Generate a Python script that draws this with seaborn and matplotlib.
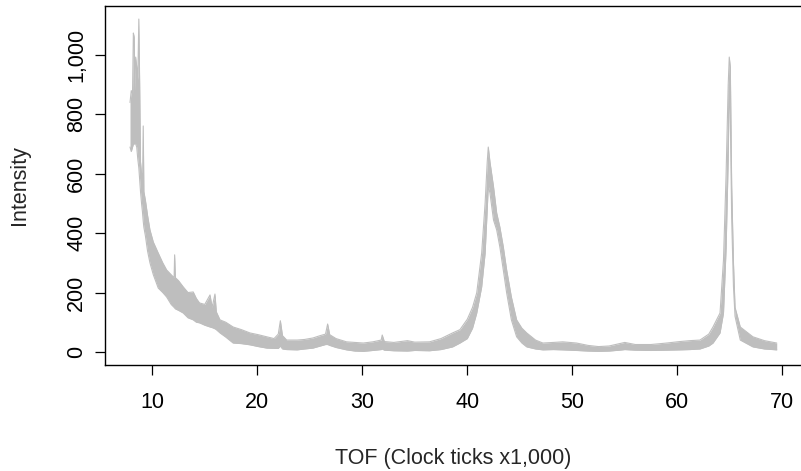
import matplotlib
matplotlib.use("Agg")
import matplotlib.pyplot as plt
import seaborn as sns
import pandas as pd
from matplotlib.ticker import FuncFormatter

# Time-of-flight spectrum: position (clock ticks x1,000) with the lower and
# upper edge of the noisy intensity trace at each position.
tof = [7.88, 8.00, 8.12, 8.20, 8.28, 8.34, 8.42, 8.52, 8.62, 8.72, 8.80, 8.88,
       8.98, 9.07, 9.14, 9.20, 9.35, 9.55, 9.78, 10.1, 10.57, 11.0, 11.37, 11.8,
       12.08, 12.13, 12.2, 12.5, 12.95, 13.4, 13.9, 14.2, 14.5, 15.0, 15.5, 15.7,
       15.97, 16.1, 16.45, 17.0, 17.7, 18.5, 19.3, 20.1, 20.9, 21.6, 22.0, 22.2,
       22.4, 22.8, 23.8, 24.5, 25.3, 26.0, 26.5, 26.7, 26.9, 27.5, 28.5, 29.3,
       30.1, 31.0, 31.8, 31.9, 32.1, 33.0, 34.3, 35.0, 36.4, 37.5, 38.6, 39.3,
       40.0, 40.5, 40.9, 41.37, 41.7, 41.9, 42.0, 42.16, 42.5, 42.8, 43.1, 43.43,
       43.75, 44.2, 44.7, 45.2, 45.66, 46.5, 47.2, 48.2, 49.1, 50.4, 51.5, 52.5,
       53.5, 54.5, 55.0, 56.0, 57.5, 59.0, 60.25, 61.2, 62.16, 63.0, 63.4, 64.07,
       64.4, 64.65, 64.85, 64.95, 65.05, 65.18, 65.35, 65.5, 66.0, 67.2, 68.3,
       69.47]
intensity_low = [690, 675, 690, 700, 700, 705, 700, 690, 650, 620, 580, 540,
                 500, 470, 440, 420, 390, 340, 300, 260, 215, 200, 185, 160,
                 150, 148, 145, 140, 131, 115, 108, 100, 98, 90, 84, 82,
                 78, 75, 64, 50, 30, 28, 24, 18, 13, 12, 12, 20,
                 10, 8, 7, 10, 13, 20, 25, 25, 22, 15, 7, 3,
                 2, 5, 8, 10, 6, 4, 3, 5, 4, 8, 17, 30,
                 45, 80, 131, 219, 333, 480, 560, 535, 444, 411, 354, 276,
                 199, 108, 51, 30, 17, 10, 7, 8, 7, 5, 3, 2,
                 3, 6, 8, 6, 5, 6, 7, 8, 10, 20, 30, 64,
                 131, 350, 650, 900, 800, 450, 220, 120, 40, 17, 10,
                 7]
intensity_high = [840, 880, 870, 1074, 1060, 880, 993, 960, 916, 1121, 900, 640,
                  600, 560, 761, 540, 510, 460, 411, 370, 333, 300, 276, 260,
                  250, 327, 250, 240, 219, 200, 202, 180, 165, 160, 192, 150,
                  195, 135, 108, 100, 84, 75, 64, 58, 51, 45, 60, 105,
                  55, 40, 40, 42, 47, 55, 60, 94, 58, 45, 34, 32,
                  30, 34, 40, 57, 35, 32, 38, 33, 34, 45, 64, 75,
                  110, 150, 199, 333, 502, 640, 690, 640, 556, 468, 421, 354,
                  276, 185, 108, 80, 64, 40, 30, 32, 34, 30, 22, 18,
                  20, 28, 32, 25, 25, 30, 35, 38, 40, 60, 84, 131,
                  310, 600, 900, 993, 960, 560, 300, 150, 84, 51, 38,
                  30]

x_ticks = [10, 20, 30, 40, 50, 60, 70]
y_ticks = [0, 200, 400, 600, 800, 1000]

sns.set_style("ticks")
plt.rcParams['font.family'] = ['Liberation Sans', 'DejaVu Sans']
FS = 15.5
plt.rcParams['font.size'] = FS

df = pd.DataFrame({"tof": tof, "low": intensity_low, "high": intensity_high})
trace = "#BEBEBE"

W, H = 801, 471
fig = plt.figure(figsize=(W / 100, H / 100), dpi=100)
left, right, top, bottom = 104.7, 801.5, 5.7, 365.3
ax = fig.add_axes([left / W, 1 - bottom / H, (right - left) / W, (bottom - top) / H])

ax.fill_between(df["tof"], df["low"], df["high"], color=trace, lw=0)
sns.lineplot(data=df, x="tof", y="high", color=trace, lw=0.8, ax=ax,
             estimator=None, sort=False)
sns.lineplot(data=df, x="tof", y="low", color=trace, lw=0.8, ax=ax,
             estimator=None, sort=False)

ax.set_xlim(5.47, 71.83)
ax.set_ylim(-45, 1166)
ax.set_xticks(x_ticks)
ax.set_yticks(y_ticks)
ax.yaxis.set_major_formatter(FuncFormatter(lambda v, p: f"{int(v):,}"))

for side in ["left", "right", "top", "bottom"]:
    ax.spines[side].set_visible(True)
    ax.spines[side].set_color("black")
    ax.spines[side].set_linewidth(1.0)

ax.tick_params(axis="both", direction="out", length=7.5, width=0.9,
               colors="black", labelsize=FS)
ax.tick_params(axis="x", pad=12)
ax.tick_params(axis="y", pad=5)
for lab in ax.get_yticklabels():
    lab.set_rotation(90)
    lab.set_va("center")

ax.set_xlabel("TOF (Clock ticks x1,000)", fontsize=FS)
ax.set_ylabel("Intensity", fontsize=FS)
ax.xaxis.set_label_coords(0.5, -0.258)
ax.yaxis.set_label_coords(-0.1216, 0.5)
ax.xaxis.label.set_va("center")
ax.yaxis.label.set_va("center")

fig.savefig("out.png", dpi=100)
